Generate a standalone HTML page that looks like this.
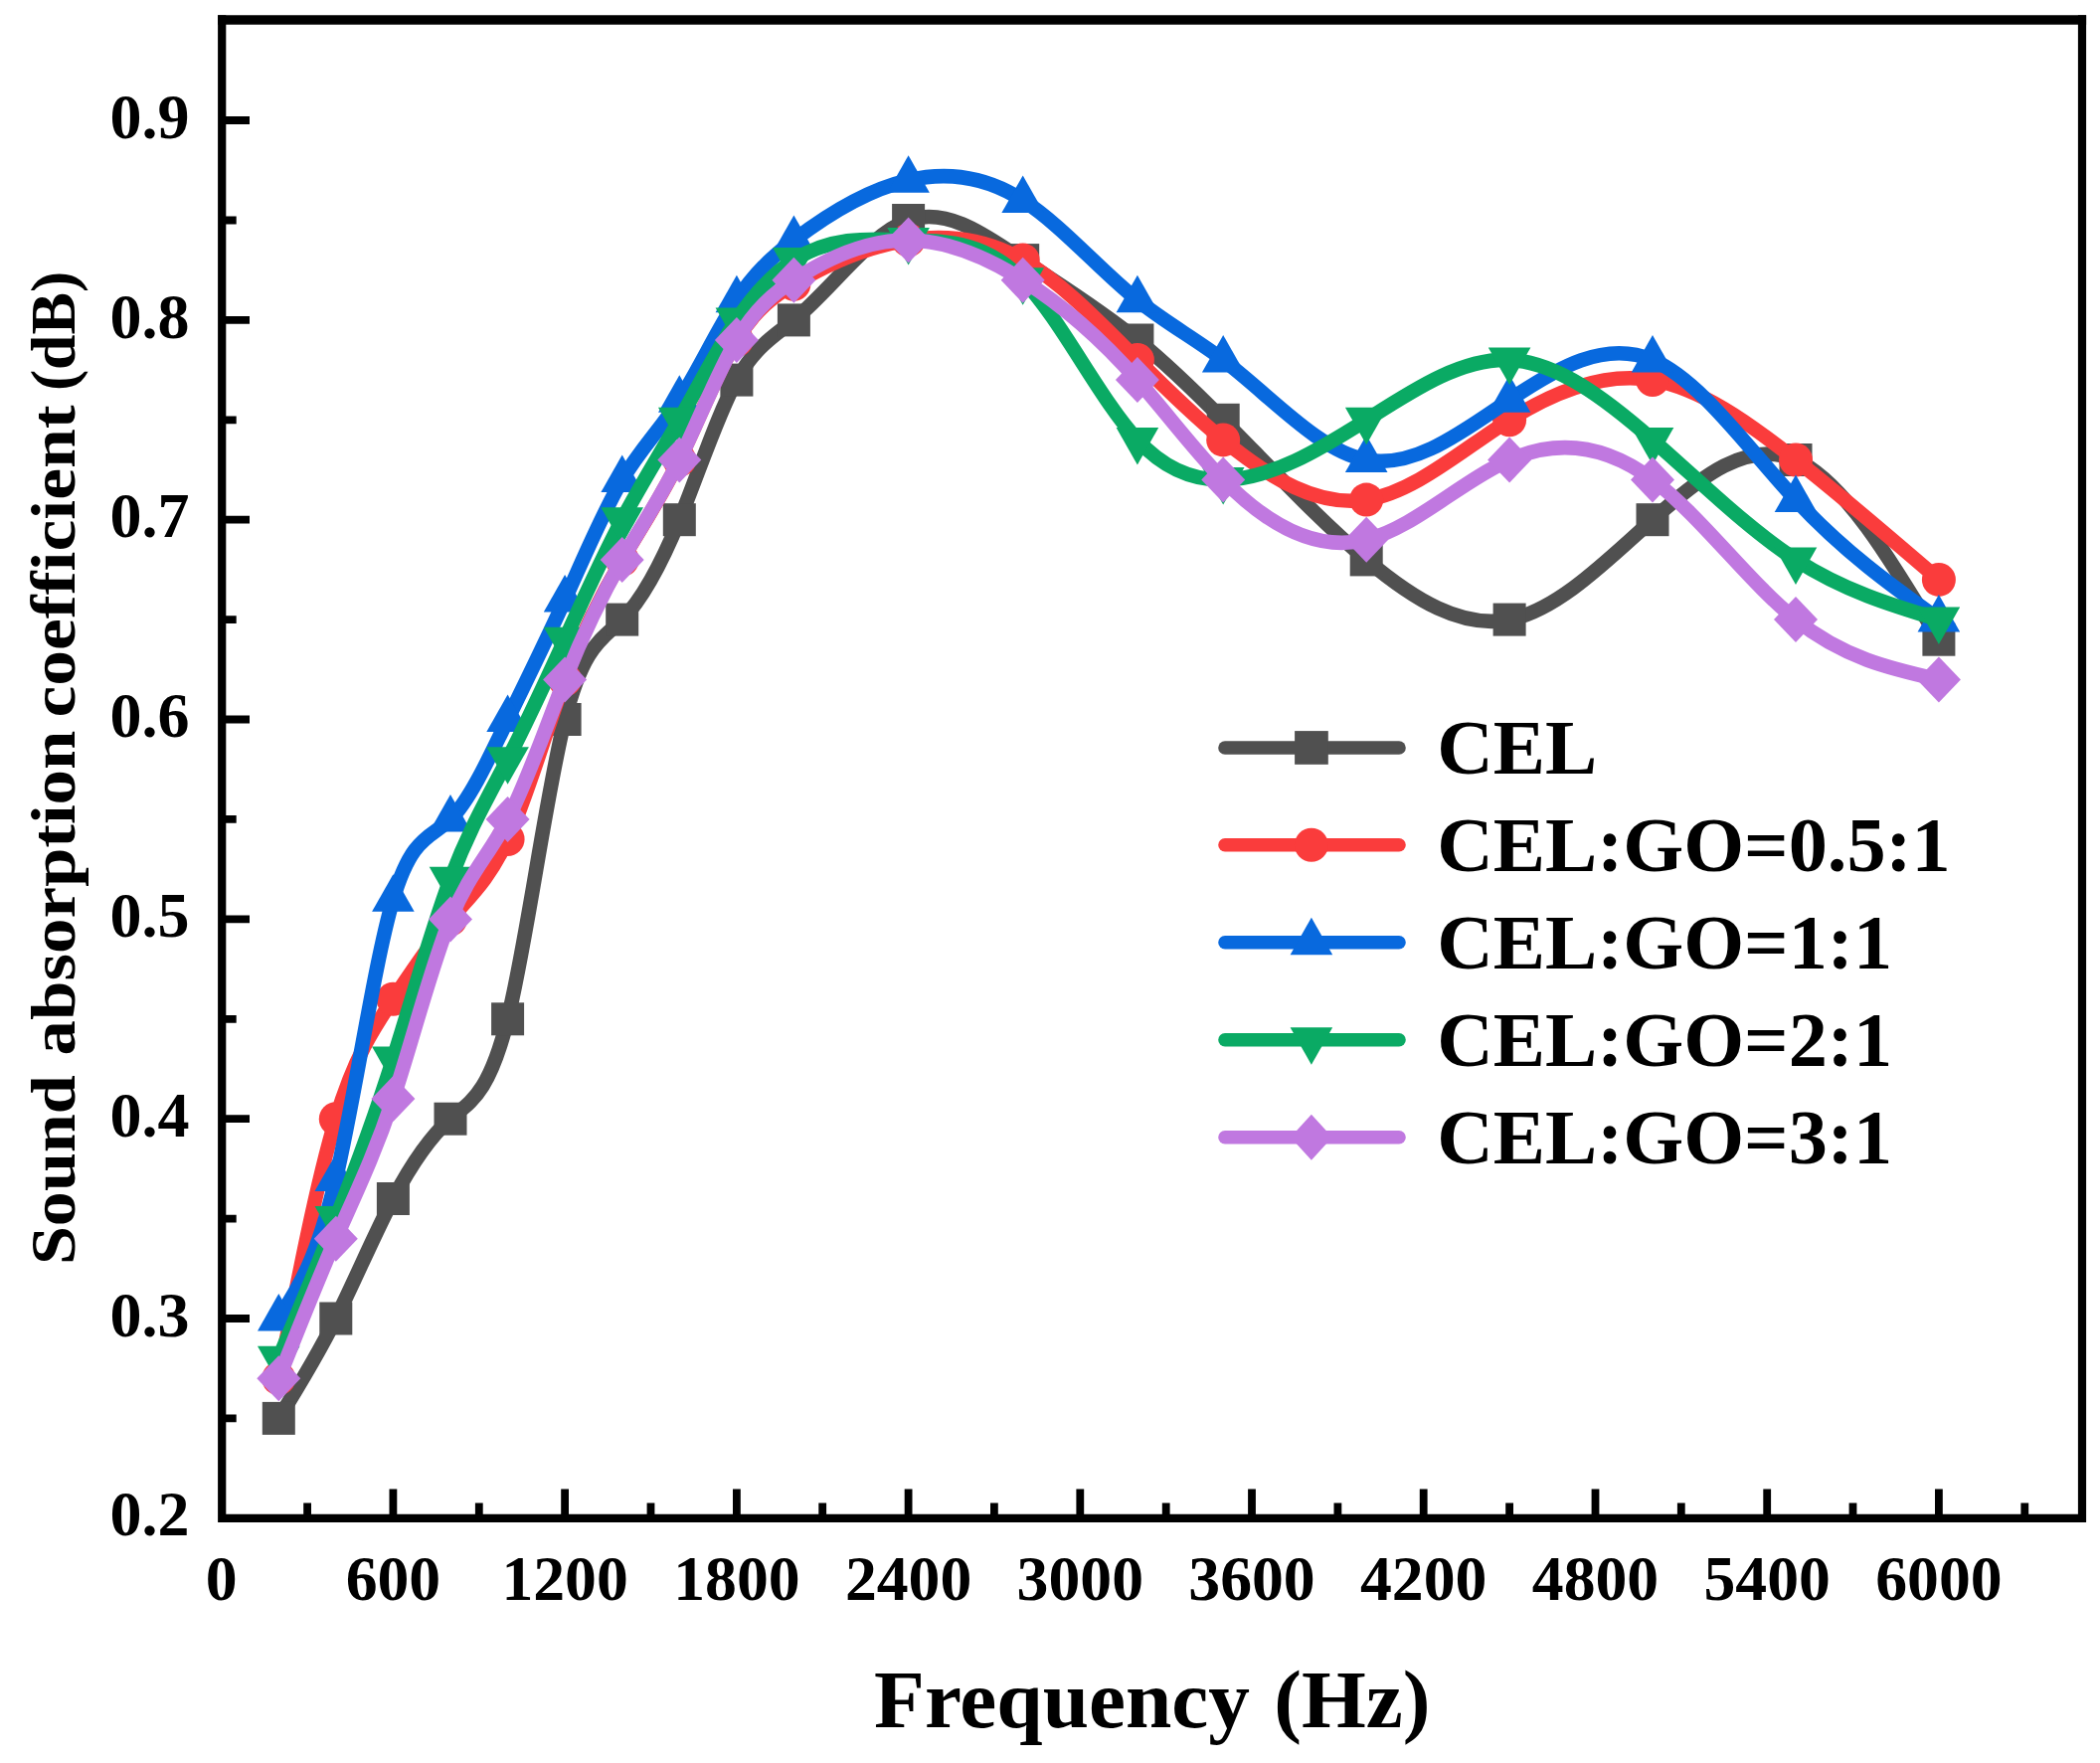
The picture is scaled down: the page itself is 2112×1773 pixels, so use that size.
<!DOCTYPE html>
<html><head><meta charset="utf-8"><title>Sound absorption coefficient</title>
<style>html,body{margin:0;padding:0;background:#fff}svg{display:block}</style></head>
<body>
<svg width="2112" height="1773" viewBox="0 0 2112 1773">
<rect width="2112" height="1773" fill="#fff"/>
<path d="M309.1,1526.9 V1511.4 M395.4,1526.9 V1497.4 M481.8,1526.9 V1511.4 M568.1,1526.9 V1497.4 M654.5,1526.9 V1511.4 M740.9,1526.9 V1497.4 M827.2,1526.9 V1511.4 M913.6,1526.9 V1497.4 M999.9,1526.9 V1511.4 M1086.3,1526.9 V1497.4 M1172.7,1526.9 V1511.4 M1259.0,1526.9 V1497.4 M1345.4,1526.9 V1511.4 M1431.7,1526.9 V1497.4 M1518.1,1526.9 V1511.4 M1604.5,1526.9 V1497.4 M1690.8,1526.9 V1511.4 M1777.2,1526.9 V1497.4 M1863.5,1526.9 V1511.4 M1949.9,1526.9 V1497.4 M2036.3,1526.9 V1511.4 M223.2,1426.4 H237.7 M223.2,1326.0 H251.0 M223.2,1225.6 H237.7 M223.2,1125.2 H251.0 M223.2,1024.8 H237.7 M223.2,924.4 H251.0 M223.2,823.9 H237.7 M223.2,723.5 H251.0 M223.2,623.1 H237.7 M223.2,522.7 H251.0 M223.2,422.3 H237.7 M223.2,321.9 H251.0 M223.2,221.5 H237.7 M223.2,121.0 H251.0" stroke="#000" stroke-width="7.8" fill="none"/>
<g><path d="M280.3,1426.4 C299.5,1395.4 318.7,1364.4 337.8,1326.0 C357.0,1287.7 376.2,1241.9 395.4,1205.5 C414.6,1169.1 433.8,1142.0 453.0,1125.2 C472.2,1108.4 491.4,1101.9 510.6,1024.8 C529.8,947.6 548.9,799.8 568.1,723.5 C587.3,647.3 606.5,642.6 625.7,623.1 C644.9,603.7 664.1,569.4 683.3,522.7 C702.5,476.0 721.7,416.7 740.9,382.1 C760.1,347.5 779.2,337.7 798.4,321.9 C836.8,290.3 875.2,235.0 913.6,221.5 C952.0,207.9 990.3,235.9 1028.7,261.6 C1067.1,287.3 1105.5,310.7 1143.9,342.0 C1172.7,365.4 1201.4,393.2 1230.2,422.3 C1278.2,470.7 1326.2,522.4 1374.2,562.9 C1422.1,603.3 1470.1,632.5 1518.1,623.1 C1566.1,613.7 1614.1,565.7 1662.0,522.7 C1710.0,479.7 1758.0,441.5 1806.0,462.5 C1853.9,483.4 1901.9,563.3 1949.9,643.2" stroke="#505050" stroke-width="14.6" fill="none" stroke-linecap="round" stroke-linejoin="round"/>
<rect x="263.8" y="1409.9" width="33" height="33" fill="#505050"/><rect x="321.3" y="1309.5" width="33" height="33" fill="#505050"/><rect x="378.9" y="1189.0" width="33" height="33" fill="#505050"/><rect x="436.5" y="1108.7" width="33" height="33" fill="#505050"/><rect x="494.1" y="1008.3" width="33" height="33" fill="#505050"/><rect x="551.6" y="707.0" width="33" height="33" fill="#505050"/><rect x="609.2" y="606.6" width="33" height="33" fill="#505050"/><rect x="666.8" y="506.2" width="33" height="33" fill="#505050"/><rect x="724.4" y="365.6" width="33" height="33" fill="#505050"/><rect x="781.9" y="305.4" width="33" height="33" fill="#505050"/><rect x="897.1" y="205.0" width="33" height="33" fill="#505050"/><rect x="1012.2" y="245.1" width="33" height="33" fill="#505050"/><rect x="1127.4" y="325.5" width="33" height="33" fill="#505050"/><rect x="1213.7" y="405.8" width="33" height="33" fill="#505050"/><rect x="1357.7" y="546.4" width="33" height="33" fill="#505050"/><rect x="1501.6" y="606.6" width="33" height="33" fill="#505050"/><rect x="1645.5" y="506.2" width="33" height="33" fill="#505050"/><rect x="1789.5" y="446.0" width="33" height="33" fill="#505050"/><rect x="1933.4" y="626.7" width="33" height="33" fill="#505050"/></g>
<g><path d="M280.3,1386.3 C299.5,1287.5 318.7,1188.7 337.8,1125.2 C357.0,1061.7 376.2,1033.4 395.4,1004.7 C414.6,976.0 433.8,946.9 453.0,924.4 C472.2,901.8 491.4,885.7 510.6,844.0 C529.8,802.4 548.9,735.1 568.1,683.4 C587.3,631.6 606.5,595.3 625.7,562.9 C644.9,530.4 664.1,501.7 683.3,462.5 C702.5,423.2 721.7,373.5 740.9,342.0 C760.1,310.4 779.2,297.2 798.4,285.7 C836.8,262.8 875.2,247.3 913.6,241.5 C952.0,235.7 990.3,239.6 1028.7,261.6 C1067.1,283.6 1105.5,323.7 1143.9,362.0 C1172.7,390.8 1201.4,418.7 1230.2,442.4 C1278.2,481.9 1326.2,509.9 1374.2,502.6 C1422.1,495.3 1470.1,452.6 1518.1,422.3 C1566.1,391.9 1614.1,374.0 1662.0,382.1 C1710.0,390.3 1758.0,424.6 1806.0,462.5 C1853.9,500.3 1901.9,541.6 1949.9,582.9" stroke="#FA3C3C" stroke-width="14.6" fill="none" stroke-linecap="round" stroke-linejoin="round"/>
<circle cx="280.3" cy="1386.3" r="17" fill="#FA3C3C"/><circle cx="337.8" cy="1125.2" r="17" fill="#FA3C3C"/><circle cx="395.4" cy="1004.7" r="17" fill="#FA3C3C"/><circle cx="453.0" cy="924.4" r="17" fill="#FA3C3C"/><circle cx="510.6" cy="844.0" r="17" fill="#FA3C3C"/><circle cx="568.1" cy="683.4" r="17" fill="#FA3C3C"/><circle cx="625.7" cy="562.9" r="17" fill="#FA3C3C"/><circle cx="683.3" cy="462.5" r="17" fill="#FA3C3C"/><circle cx="740.9" cy="342.0" r="17" fill="#FA3C3C"/><circle cx="798.4" cy="285.7" r="17" fill="#FA3C3C"/><circle cx="913.6" cy="241.5" r="17" fill="#FA3C3C"/><circle cx="1028.7" cy="261.6" r="17" fill="#FA3C3C"/><circle cx="1143.9" cy="362.0" r="17" fill="#FA3C3C"/><circle cx="1230.2" cy="442.4" r="17" fill="#FA3C3C"/><circle cx="1374.2" cy="502.6" r="17" fill="#FA3C3C"/><circle cx="1518.1" cy="422.3" r="17" fill="#FA3C3C"/><circle cx="1662.0" cy="382.1" r="17" fill="#FA3C3C"/><circle cx="1806.0" cy="462.5" r="17" fill="#FA3C3C"/><circle cx="1949.9" cy="582.9" r="17" fill="#FA3C3C"/></g>
<g><path d="M280.3,1326.0 C299.5,1296.6 318.7,1267.2 337.8,1185.4 C357.0,1103.7 376.2,969.5 395.4,904.3 C414.6,839.1 433.8,842.8 453.0,823.9 C472.2,805.0 491.4,763.5 510.6,723.5 C529.8,683.6 548.9,645.2 568.1,603.0 C587.3,560.8 606.5,514.7 625.7,482.5 C644.9,450.4 664.1,432.1 683.3,402.2 C702.5,372.3 721.7,330.8 740.9,301.8 C760.1,272.8 779.2,256.2 798.4,241.5 C836.8,212.2 875.2,190.1 913.6,181.3 C952.0,172.4 990.3,176.7 1028.7,201.4 C1067.1,226.0 1105.5,270.9 1143.9,301.8 C1172.7,324.9 1201.4,340.2 1230.2,362.0 C1278.2,398.5 1326.2,453.4 1374.2,462.5 C1422.1,471.5 1470.1,434.6 1518.1,402.2 C1566.1,369.8 1614.1,341.7 1662.0,362.0 C1710.0,382.4 1758.0,451.0 1806.0,502.6 C1853.9,554.2 1901.9,588.7 1949.9,623.1" stroke="#0869DE" stroke-width="14.6" fill="none" stroke-linecap="round" stroke-linejoin="round"/>
<polygon points="259.0,1338.5 301.6,1338.5 280.3,1301.0" fill="#0869DE"/><polygon points="316.5,1197.9 359.1,1197.9 337.8,1160.4" fill="#0869DE"/><polygon points="374.1,916.8 416.7,916.8 395.4,879.3" fill="#0869DE"/><polygon points="431.7,836.4 474.3,836.4 453.0,798.9" fill="#0869DE"/><polygon points="489.3,736.0 531.9,736.0 510.6,698.5" fill="#0869DE"/><polygon points="546.8,615.5 589.4,615.5 568.1,578.0" fill="#0869DE"/><polygon points="604.4,495.0 647.0,495.0 625.7,457.5" fill="#0869DE"/><polygon points="662.0,414.7 704.6,414.7 683.3,377.2" fill="#0869DE"/><polygon points="719.6,314.3 762.2,314.3 740.9,276.8" fill="#0869DE"/><polygon points="777.1,254.0 819.7,254.0 798.4,216.5" fill="#0869DE"/><polygon points="892.3,193.8 934.9,193.8 913.6,156.3" fill="#0869DE"/><polygon points="1007.4,213.9 1050.0,213.9 1028.7,176.4" fill="#0869DE"/><polygon points="1122.6,314.3 1165.2,314.3 1143.9,276.8" fill="#0869DE"/><polygon points="1208.9,374.5 1251.5,374.5 1230.2,337.0" fill="#0869DE"/><polygon points="1352.9,475.0 1395.5,475.0 1374.2,437.5" fill="#0869DE"/><polygon points="1496.8,414.7 1539.4,414.7 1518.1,377.2" fill="#0869DE"/><polygon points="1640.7,374.5 1683.3,374.5 1662.0,337.0" fill="#0869DE"/><polygon points="1784.7,515.1 1827.3,515.1 1806.0,477.6" fill="#0869DE"/><polygon points="1928.6,635.6 1971.2,635.6 1949.9,598.1" fill="#0869DE"/></g>
<g><path d="M280.3,1366.2 C299.5,1320.3 318.7,1274.3 337.8,1225.6 C357.0,1176.9 376.2,1125.4 395.4,1064.9 C414.6,1004.5 433.8,935.1 453.0,884.2 C472.2,833.2 491.4,800.7 510.6,763.7 C529.8,726.7 548.9,685.1 568.1,643.2 C587.3,601.3 606.5,558.9 625.7,522.7 C644.9,486.5 664.1,456.3 683.3,422.3 C702.5,388.3 721.7,350.5 740.9,321.9 C760.1,293.3 779.2,274.0 798.4,261.6 C836.8,236.9 875.2,240.2 913.6,241.5 C952.0,242.8 990.3,242.2 1028.7,281.7 C1067.1,321.2 1105.5,400.9 1143.9,442.4 C1172.7,473.5 1201.4,483.1 1230.2,482.5 C1278.2,481.7 1326.2,452.7 1374.2,422.3 C1422.1,391.8 1470.1,359.9 1518.1,362.0 C1566.1,364.2 1614.1,400.5 1662.0,442.4 C1710.0,484.3 1758.0,531.8 1806.0,562.9 C1853.9,593.9 1901.9,608.5 1949.9,623.1" stroke="#0AAA64" stroke-width="14.6" fill="none" stroke-linecap="round" stroke-linejoin="round"/>
<polygon points="259.0,1353.7 301.6,1353.7 280.3,1391.2" fill="#0AAA64"/><polygon points="316.5,1213.1 359.1,1213.1 337.8,1250.6" fill="#0AAA64"/><polygon points="374.1,1052.4 416.7,1052.4 395.4,1089.9" fill="#0AAA64"/><polygon points="431.7,871.7 474.3,871.7 453.0,909.2" fill="#0AAA64"/><polygon points="489.3,751.2 531.9,751.2 510.6,788.7" fill="#0AAA64"/><polygon points="546.8,630.7 589.4,630.7 568.1,668.2" fill="#0AAA64"/><polygon points="604.4,510.2 647.0,510.2 625.7,547.7" fill="#0AAA64"/><polygon points="662.0,409.8 704.6,409.8 683.3,447.3" fill="#0AAA64"/><polygon points="719.6,309.4 762.2,309.4 740.9,346.9" fill="#0AAA64"/><polygon points="777.1,249.1 819.7,249.1 798.4,286.6" fill="#0AAA64"/><polygon points="892.3,229.0 934.9,229.0 913.6,266.5" fill="#0AAA64"/><polygon points="1007.4,269.2 1050.0,269.2 1028.7,306.7" fill="#0AAA64"/><polygon points="1122.6,429.9 1165.2,429.9 1143.9,467.4" fill="#0AAA64"/><polygon points="1208.9,470.0 1251.5,470.0 1230.2,507.5" fill="#0AAA64"/><polygon points="1352.9,409.8 1395.5,409.8 1374.2,447.3" fill="#0AAA64"/><polygon points="1496.8,349.5 1539.4,349.5 1518.1,387.0" fill="#0AAA64"/><polygon points="1640.7,429.9 1683.3,429.9 1662.0,467.4" fill="#0AAA64"/><polygon points="1784.7,550.4 1827.3,550.4 1806.0,587.9" fill="#0AAA64"/><polygon points="1928.6,610.6 1971.2,610.6 1949.9,648.1" fill="#0AAA64"/></g>
<g><path d="M280.3,1386.3 C299.5,1337.9 318.7,1289.4 337.8,1245.7 C357.0,1201.9 376.2,1162.8 395.4,1105.1 C414.6,1047.4 433.8,971.1 453.0,924.4 C472.2,877.7 491.4,860.6 510.6,823.9 C529.8,787.3 548.9,731.1 568.1,683.4 C587.3,635.7 606.5,596.5 625.7,562.9 C644.9,529.2 664.1,501.2 683.3,462.5 C702.5,423.7 721.7,374.3 740.9,342.0 C760.1,309.6 779.2,294.4 798.4,281.7 C836.8,256.4 875.2,241.3 913.6,241.5 C952.0,241.8 990.3,257.5 1028.7,281.7 C1067.1,305.9 1105.5,338.7 1143.9,382.1 C1172.7,414.7 1201.4,453.2 1230.2,482.5 C1278.2,531.4 1326.2,554.8 1374.2,542.8 C1422.1,530.8 1470.1,483.5 1518.1,462.5 C1566.1,441.4 1614.1,446.8 1662.0,482.5 C1710.0,518.3 1758.0,584.6 1806.0,623.1 C1853.9,661.7 1901.9,672.5 1949.9,683.4" stroke="#C078E0" stroke-width="14.6" fill="none" stroke-linecap="round" stroke-linejoin="round"/>
<polygon points="258.3,1386.3 280.3,1363.3 302.3,1386.3 280.3,1409.3" fill="#C078E0"/><polygon points="315.8,1245.7 337.8,1222.7 359.8,1245.7 337.8,1268.7" fill="#C078E0"/><polygon points="373.4,1105.1 395.4,1082.1 417.4,1105.1 395.4,1128.1" fill="#C078E0"/><polygon points="431.0,924.4 453.0,901.4 475.0,924.4 453.0,947.4" fill="#C078E0"/><polygon points="488.6,823.9 510.6,800.9 532.6,823.9 510.6,846.9" fill="#C078E0"/><polygon points="546.1,683.4 568.1,660.4 590.1,683.4 568.1,706.4" fill="#C078E0"/><polygon points="603.7,562.9 625.7,539.9 647.7,562.9 625.7,585.9" fill="#C078E0"/><polygon points="661.3,462.5 683.3,439.5 705.3,462.5 683.3,485.5" fill="#C078E0"/><polygon points="718.9,342.0 740.9,319.0 762.9,342.0 740.9,365.0" fill="#C078E0"/><polygon points="776.4,281.7 798.4,258.7 820.4,281.7 798.4,304.7" fill="#C078E0"/><polygon points="891.6,241.5 913.6,218.5 935.6,241.5 913.6,264.5" fill="#C078E0"/><polygon points="1006.7,281.7 1028.7,258.7 1050.7,281.7 1028.7,304.7" fill="#C078E0"/><polygon points="1121.9,382.1 1143.9,359.1 1165.9,382.1 1143.9,405.1" fill="#C078E0"/><polygon points="1208.2,482.5 1230.2,459.5 1252.2,482.5 1230.2,505.5" fill="#C078E0"/><polygon points="1352.2,542.8 1374.2,519.8 1396.2,542.8 1374.2,565.8" fill="#C078E0"/><polygon points="1496.1,462.5 1518.1,439.5 1540.1,462.5 1518.1,485.5" fill="#C078E0"/><polygon points="1640.0,482.5 1662.0,459.5 1684.0,482.5 1662.0,505.5" fill="#C078E0"/><polygon points="1784.0,623.1 1806.0,600.1 1828.0,623.1 1806.0,646.1" fill="#C078E0"/><polygon points="1927.9,683.4 1949.9,660.4 1971.9,683.4 1949.9,706.4" fill="#C078E0"/></g>
<path d="M223.2,15.2 V1526.9 H2094.0 V15.2" fill="none" stroke="#000" stroke-width="8.2" stroke-linejoin="miter"/>
<path d="M219.1,20.0 H2098.1" fill="none" stroke="#000" stroke-width="9.6"/>
<g font-family="'Liberation Serif', serif" font-weight="bold" font-size="63.7" fill="#000" text-anchor="middle">
<text x="222.7" y="1609">0</text>
<text x="395.4" y="1609">600</text>
<text x="568.1" y="1609">1200</text>
<text x="740.9" y="1609">1800</text>
<text x="913.6" y="1609">2400</text>
<text x="1086.3" y="1609">3000</text>
<text x="1259.0" y="1609">3600</text>
<text x="1431.7" y="1609">4200</text>
<text x="1604.5" y="1609">4800</text>
<text x="1777.2" y="1609">5400</text>
<text x="1949.9" y="1609">6000</text>
</g>
<g font-family="'Liberation Serif', serif" font-weight="bold" font-size="64" fill="#000" text-anchor="end">
<text x="190.5" y="1544.4">0.2</text>
<text x="190.5" y="1343.6">0.3</text>
<text x="190.5" y="1142.8">0.4</text>
<text x="190.5" y="942.0">0.5</text>
<text x="190.5" y="741.1">0.6</text>
<text x="190.5" y="540.3">0.7</text>
<text x="190.5" y="339.5">0.8</text>
<text x="190.5" y="138.6">0.9</text>
</g>
<text font-family="'Liberation Serif', serif" font-weight="bold" font-size="83.3" x="879" y="1736.7">Frequency<tspan dx="3.5"> (Hz)</tspan></text>
<text font-family="'Liberation Serif', serif" font-weight="bold" font-size="64" transform="translate(74.9,1272.1) rotate(-90) scale(1.095,1)">Sound</text>
<text font-family="'Liberation Serif', serif" font-weight="bold" font-size="64" transform="translate(74.9,1061.5) rotate(-90) scale(1.108,1)">absorption</text>
<text font-family="'Liberation Serif', serif" font-weight="bold" font-size="64" transform="translate(74.9,721.5) rotate(-90) scale(1.119,1)">coefficient</text>
<text font-family="'Liberation Serif', serif" font-weight="bold" font-size="64" transform="translate(74.9,393.1) rotate(-90) scale(0.994,1)">(dB)</text>
<path d="M1232,752 H1407" stroke="#505050" stroke-width="13.6" stroke-linecap="round"/>
<rect x="1302.1" y="735.1" width="33.7" height="33.7" fill="#505050"/>
<text font-family="'Liberation Serif', serif" font-weight="bold" font-size="78.3" x="1445.2" y="778.0">CEL</text>
<path d="M1232,849.7 H1407" stroke="#FA3C3C" stroke-width="13.6" stroke-linecap="round"/>
<circle cx="1318.9" cy="849.7" r="17" fill="#FA3C3C"/>
<text font-family="'Liberation Serif', serif" font-weight="bold" font-size="78.3" x="1445.2" y="875.7">CEL:GO=0.5:1</text>
<path d="M1232,947.7 H1407" stroke="#0869DE" stroke-width="13.6" stroke-linecap="round"/>
<polygon points="1297.6,960.2 1340.2,960.2 1318.9,922.7" fill="#0869DE"/>
<text font-family="'Liberation Serif', serif" font-weight="bold" font-size="78.3" x="1445.2" y="973.7">CEL:GO=1:1</text>
<path d="M1232,1045.7 H1407" stroke="#0AAA64" stroke-width="13.6" stroke-linecap="round"/>
<polygon points="1297.6,1033.2 1340.2,1033.2 1318.9,1070.7" fill="#0AAA64"/>
<text font-family="'Liberation Serif', serif" font-weight="bold" font-size="78.3" x="1445.2" y="1071.7">CEL:GO=2:1</text>
<path d="M1232,1143.8 H1407" stroke="#C078E0" stroke-width="13.6" stroke-linecap="round"/>
<polygon points="1297.9,1143.8 1318.9,1120.8 1339.9,1143.8 1318.9,1166.8" fill="#C078E0"/>
<text font-family="'Liberation Serif', serif" font-weight="bold" font-size="78.3" x="1445.2" y="1169.8">CEL:GO=3:1</text>
</svg>
</body></html>
